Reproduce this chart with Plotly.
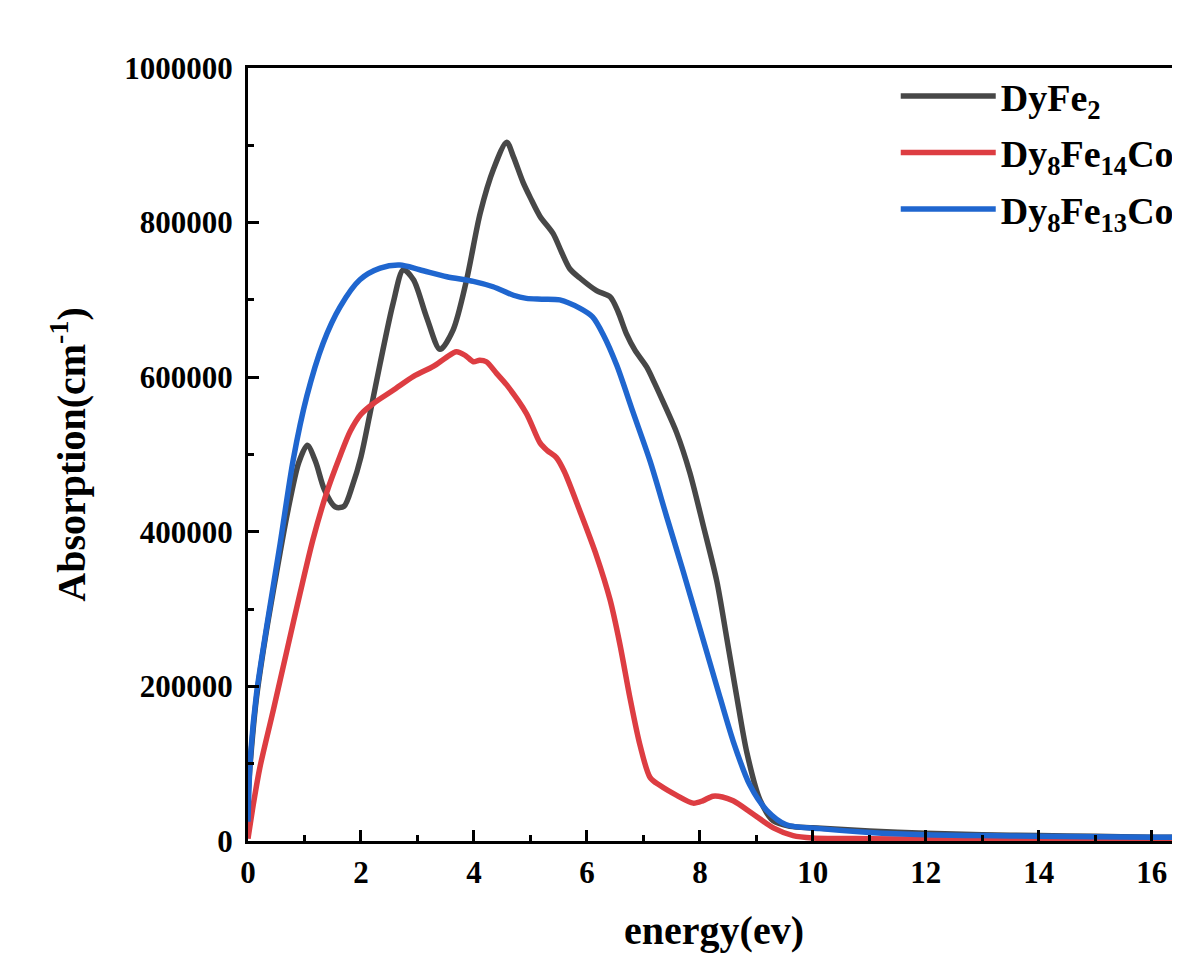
import plotly.graph_objects as go

# ---- data ----
e_dyfe2 = [0, 0.05, 0.15, 0.3, 0.5, 0.7, 0.9, 1.05, 1.2, 1.35, 1.55, 1.7, 1.85, 2.0, 2.16, 2.34,
           2.57, 2.75, 2.93, 3.16, 3.4, 3.63, 3.87, 4.11, 4.35, 4.58, 4.7, 4.87, 5.0, 5.17, 5.4,
           5.55, 5.7, 5.88, 6.17, 6.41, 6.55, 6.7, 6.85, 7.06, 7.2, 7.35, 7.59, 7.82, 8.06, 8.3,
           8.47, 8.65, 8.83, 9.06, 9.3, 9.6, 10, 11, 12, 13, 14, 15, 16, 16.5]
a_dyfe2 = [60000, 110000, 185000, 260000, 345000, 425000, 490000, 512000, 490000, 455000, 432000,
           433000, 460000, 497000, 553000, 618000, 696000, 739000, 726000, 678000, 636000, 661000,
           726000, 812000, 870000, 904000, 885000, 852000, 832000, 808000, 786000, 762000, 740000,
           728000, 712000, 704000, 685000, 656000, 635000, 613000, 592000, 568000, 528000, 477000,
           408000, 336000, 265000, 188000, 115000, 54000, 26000, 19000, 17000, 13000, 10000, 8000,
           7000, 6000, 5000, 5000]

e_co14 = [0, 0.1, 0.21, 0.45, 0.7, 0.92, 1.15, 1.39, 1.63, 1.81, 2.0, 2.22, 2.57, 2.93, 3.28, 3.5,
          3.69, 3.85, 3.99, 4.1, 4.22, 4.4, 4.58, 4.93, 5.17, 5.3, 5.46, 5.6, 5.88, 6.17, 6.41,
          6.58, 6.76, 6.94, 7.12, 7.29, 7.59, 7.88, 8.05, 8.23, 8.4, 8.59, 8.94, 9.3, 9.65, 10,
          11, 12, 14, 16, 16.5]
a_co14 = [3000, 50000, 95000, 170000, 250000, 320000, 390000, 450000, 498000, 530000, 552000,
          566000, 583000, 601000, 614000, 625000, 633000, 628000, 620000, 622000, 620000, 605000,
          590000, 553000, 515000, 505000, 496000, 478000, 426000, 369000, 312000, 256000, 186000,
          124000, 82000, 72000, 59000, 49000, 52000, 58000, 57000, 52000, 35000, 17000, 7000,
          4000, 3000, 2500, 2000, 2000, 2000]

e_co13 = [0, 0.04, 0.15, 0.33, 0.57, 0.8, 1.04, 1.33, 1.63, 1.98, 2.34, 2.69, 3.04, 3.52, 3.99,
          4.34, 4.7, 4.93, 5.2, 5.52, 5.88, 6.1, 6.29, 6.53, 6.81, 7.12, 7.41, 7.7, 8.0, 8.3, 8.59,
          8.88, 9.18, 9.53, 10.12, 11, 12, 13, 14, 15, 16, 16.5]
a_co13 = [25000, 105000, 190000, 277000, 385000, 493000, 575000, 644000, 691000, 726000, 741000,
          745000, 739000, 730000, 724000, 717000, 706000, 702000, 701000, 700000, 689000, 678000,
          655000, 615000, 556000, 491000, 420000, 350000, 275000, 200000, 129000, 73000, 40000,
          21000, 16000, 11000, 8000, 7000, 6000, 5500, 5000, 5000]

names = ["DyFe<sub>2</sub>",
         "Dy<sub>8</sub>Fe<sub>14</sub>Co<sub>2</sub>",
         "Dy<sub>8</sub>Fe<sub>13</sub>Co<sub>3</sub>"]
colors = ["#474747", "#dd3d42", "#1f66cf"]

x_ticks = [0, 2, 4, 6, 8, 10, 12, 14, 16]
y_ticks = [0, 200000, 400000, 600000, 800000, 1000000]

FONT = "Liberation Serif"

fig = go.Figure()
for i, (xs, ys, nm, col) in enumerate([(e_dyfe2, a_dyfe2, names[0], colors[0]),
                                       (e_co14, a_co14, names[1], colors[1]),
                                       (e_co13, a_co13, names[2], colors[2])]):
    fig.add_trace(go.Scatter(x=xs, y=ys, name=nm, mode="lines", legendgroup=f"g{i}",
                             line=dict(color=col, width=5.5, shape="spline", smoothing=0.8)))

axis_common = dict(
    showline=True, linecolor="black", linewidth=3,
    ticks="inside", tickcolor="black", tickwidth=3, ticklen=11,
    showgrid=False, zeroline=False,
    tickfont=dict(family=FONT, size=31, color="black", weight="bold"),
)

fig.update_xaxes(
    range=[0, 16.5], tickvals=x_ticks, ticktext=[str(v) for v in x_ticks],
    mirror=True, ticklabelstandoff=2,
    minor=dict(dtick=1, ticks="inside", ticklen=6, tickwidth=3, tickcolor="black"),
    title=dict(text="<b>energy(ev)</b>", font=dict(family=FONT, size=40, color="black"), standoff=31),
    **axis_common,
)
fig.update_yaxes(
    range=[0, 1000000], tickvals=y_ticks, ticktext=[str(v) for v in y_ticks],
    mirror=False, ticklabelstandoff=6,
    minor=dict(dtick=100000, ticks="inside", ticklen=6, tickwidth=3, tickcolor="black"),
    title=dict(text="<b>Absorption(cm<sup>-1</sup>)</b>", font=dict(family=FONT, size=40, color="black"), standoff=27),
    **axis_common,
)

fig.update_layout(
    width=1172, height=945,
    margin=dict(l=240, r=0, t=60, b=112, autoexpand=False),
    paper_bgcolor="white", plot_bgcolor="white",
    showlegend=True,
    legend=dict(x=0.695, y=1.004, xanchor="left", yanchor="top",
                bgcolor="rgba(0,0,0,0)", borderwidth=0,
                font=dict(family=FONT, size=38, color="black", weight="bold"),
                itemwidth=95, tracegroupgap=4),
)

fig.write_html("out.html")
